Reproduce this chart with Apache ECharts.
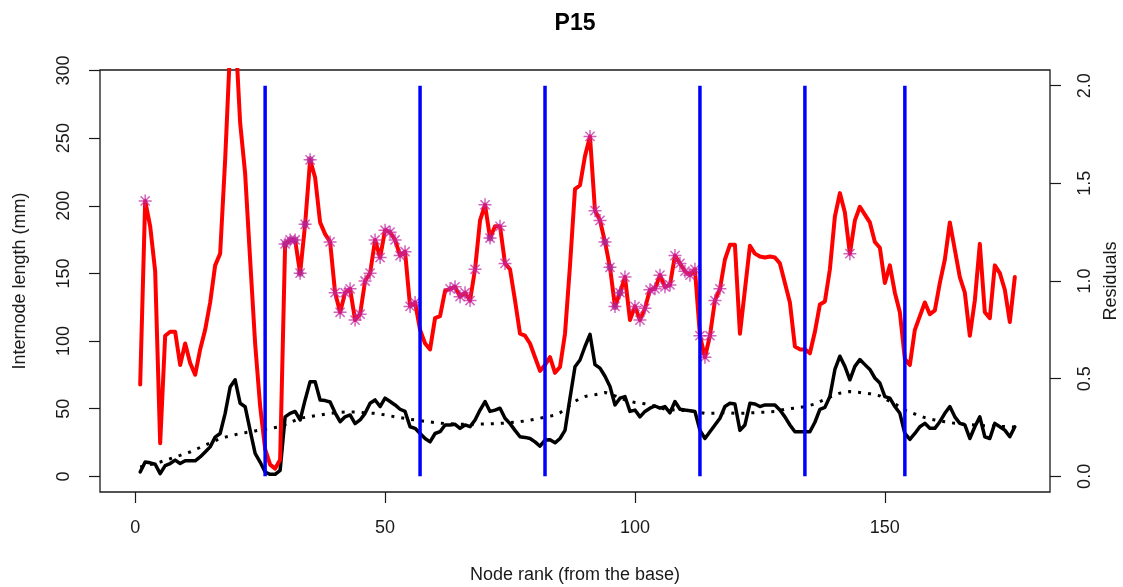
<!DOCTYPE html>
<html>
<head>
<meta charset="utf-8">
<script src="https://cdn.jsdelivr.net/npm/echarts@6/dist/echarts.min.js"></script>
<style>
  html, body { margin: 0; padding: 0; background: #ffffff; }
  #chart { width: 1123px; height: 587px; }
</style>
</head>
<body>
<div id="chart"></div>
<script>
// Internode length (mm) for nodes 1..176, counted from the base
const internodeLength = [
  3.2, 10.6, 10, 9, 2, 8, 9.5, 12, 9.5, 11.5,
  11.5, 11.5, 14.4, 18, 21.8, 29, 31.7, 46.6, 66, 71.4,
  54, 51.5, 34, 17, 10.6, 3.2, 1.5, 1.5, 4.5, 44,
  46.6, 48, 41.7, 56.5, 70, 70, 56.5, 56, 55, 47,
  40.4, 44, 45.4, 39, 41.7, 46.6, 54, 56.5, 51.6, 57.8,
  55.3, 52.8, 49.6, 48, 36.7, 35.5, 31.7, 28, 25.5, 31.7,
  33, 38, 38, 38.5, 35.5, 38, 36.7, 41.7, 49, 55.3,
  48, 49, 50.4, 43, 39, 34, 29.3, 28.8, 28, 25.5,
  22.3, 26.8, 27, 24.8, 28, 34, 58, 81, 86, 96,
  105, 82.6, 80, 74, 66.4, 52.8, 57.8, 59, 48, 49,
  44, 48, 50.4, 52, 50.4, 51.6, 47, 55.3, 49.6, 49,
  48.5, 48, 34, 28, 33, 38, 43, 51.6, 54, 53.5,
  34, 38, 54, 53.5, 51.6, 52.8, 52.8, 52.8, 49, 44,
  38, 33, 33, 33, 33, 40, 49.6, 51, 59, 79,
  88.8, 81.3, 71.4, 81.3, 86.3, 82.6, 79, 72.7, 69, 59,
  57.8, 51.6, 46.6, 31.7, 27.3, 31.7, 36.7, 39.2, 35.5, 35.5,
  40.4, 46.6, 51.6, 44, 39.2, 38, 28, 36.7, 44, 29.3,
  28, 39.2, 36.7, 34.2, 29.3, 36.7
];

// Smoothed trend of the internode length (mm), one value per node
const smoothTrend = [
  7.0, 7.8, 8.7, 9.6, 10.6, 11.8, 13.0, 14.3, 15.5, 16.8,
  18.0, 19.7, 21.4, 23.0, 24.7, 26.4, 28.0, 29.0, 29.9, 30.8,
  31.7, 32.3, 32.9, 33.6, 34.2, 34.8, 35.4, 36.1, 36.7, 38.3,
  39.8, 41.4, 43.0, 43.6, 44.2, 44.8, 45.4, 46.0, 46.6, 47.0,
  47.4, 47.6, 47.6, 47.5, 47.3, 47.0, 46.8, 46.6, 46.0, 45.4,
  44.7, 44.0, 43.4, 42.8, 42.2, 41.7, 41.2, 40.7, 40.2, 39.7,
  39.4, 39.1, 38.9, 38.7, 38.6, 38.5, 38.5, 38.6, 38.7, 38.8,
  38.9, 39.0, 39.2, 39.4, 39.7, 40.0, 40.4, 41.0, 41.6, 42.3,
  43.0, 43.8, 44.5, 45.2, 47.0, 49.5, 52.5, 55.5, 57.5, 59.0,
  59.7, 60.3, 61.2, 62.0, 61.0, 59.5, 58.0, 56.5, 55.5, 54.6,
  54.1, 53.6, 52.8, 52.0, 50.8, 49.6, 49.3, 49.0, 48.8, 48.6,
  48.3, 47.9, 47.3, 46.6, 46.6, 46.6, 46.9, 47.1, 46.9, 46.6,
  46.6, 46.6, 46.9, 47.1, 47.3, 47.4, 47.7, 47.9, 48.8, 49.6,
  50.0, 50.4, 51.0, 51.6, 52.5, 53.5, 55.3, 57.0, 58.6, 60.2,
  61.5, 62.1, 62.7, 62.4, 62.0, 61.5, 61.0, 60.2, 59.5, 57.5,
  55.3, 53.5, 51.6, 49.0, 47.5, 46.1, 44.8, 43.4, 42.5, 41.7,
  41.0, 40.4, 39.8, 39.2, 38.9, 38.6, 38.3, 38.0, 37.7, 37.5,
  37.3, 37.1, 36.9, 36.8, 36.6, 36.5
];

// Residuals (length relative to the trend), right-hand scale
const residuals = [
  0.47, 1.41, 1.28, 1.05, 0.17, 0.72, 0.74, 0.74, 0.57, 0.68,
  0.58, 0.52, 0.65, 0.75, 0.89, 1.08, 1.14, 1.62, 2.2, 2.3,
  1.81, 1.55, 1.11, 0.68, 0.36, 0.14, 0.06, 0.04, 0.085, 1.19,
  1.21, 1.21, 1.04, 1.29, 1.62, 1.53, 1.30, 1.24, 1.20, 0.94,
  0.84, 0.94, 0.96, 0.80, 0.83, 1.00, 1.04, 1.21, 1.12, 1.26,
  1.25, 1.21, 1.13, 1.15, 0.87, 0.89, 0.75, 0.68, 0.65, 0.81,
  0.82, 0.95, 0.96, 0.97, 0.92, 0.94, 0.90, 1.06, 1.31, 1.39,
  1.22, 1.28, 1.28, 1.09, 1.06, 0.90, 0.73, 0.72, 0.68, 0.61,
  0.54, 0.57, 0.61, 0.53, 0.56, 0.73, 1.08, 1.47, 1.49, 1.64,
  1.74, 1.36, 1.31, 1.20, 1.07, 0.87, 0.94, 1.02, 0.80, 0.87,
  0.80, 0.86, 0.955, 0.96, 1.03, 0.97, 0.98, 1.13, 1.09, 1.05,
  1.03, 1.06, 0.72, 0.61, 0.72, 0.90, 0.96, 1.11, 1.185, 1.185,
  0.73, 0.955, 1.18, 1.14, 1.125, 1.12, 1.125, 1.12, 1.09, 0.99,
  0.89, 0.665, 0.65, 0.65, 0.63, 0.74, 0.88, 0.895, 1.06, 1.33,
  1.45, 1.35, 1.14, 1.31, 1.38, 1.34, 1.30, 1.20, 1.17, 0.99,
  1.08, 0.94, 0.84, 0.60, 0.57, 0.75, 0.82, 0.89, 0.83, 0.85,
  0.99, 1.11, 1.30, 1.16, 1.02, 0.94, 0.72, 0.90, 1.19, 0.84,
  0.81, 1.08, 1.04, 0.955, 0.79, 1.02
];

// Nodes flagged with an asterisk on the residual curve
const starredNodes = [
  2, 30, 31, 32, 33, 34, 35, 39, 40, 41, 42, 43, 44, 45, 46, 47, 48, 49,
  50, 51, 52, 53, 54, 55, 56, 63, 64, 65, 66, 67, 68, 70, 71, 73, 74,
  91, 92, 93, 94, 95, 96, 97, 98, 100, 101, 102, 103, 104, 105, 106,
  107, 108, 109, 110, 111, 112, 113, 114, 115, 116, 117, 143
];
// Flagged nodes where several asterisks pile up
const stackedStarNodes = [30, 31, 32, 33, 34, 35, 71, 94, 95, 96, 97];

// Segment boundaries (node ranks)
const breakNodes = [26, 57, 82, 113, 134, 154];

// Tick labels
const xTicks = [0, 50, 100, 150];
const leftTicks = [0, 50, 100, 150, 200, 250, 300];
const rightTicks = [0, 0.5, 1, 1.5, 2];

const FONT = '"Liberation Sans", Arial, Helvetica, sans-serif';
const TEXT = '#1a1a1a';

const nodeRank = internodeLength.map((_, i) => i + 1);
const toPoints = (vals) => vals.map((v, i) => [nodeRank[i], v]);
const residualAt = (node) => [node, residuals[node - 1]];

const asteriskPath = 'path://M0,-10L0,10M-10,0L10,0M-7.07,-7.07L7.07,7.07M-7.07,7.07L7.07,-7.07';

const axisText = { fontFamily: FONT, fontSize: 18, color: TEXT };

const chart = echarts.init(document.getElementById('chart'), null, { renderer: 'canvas' });

const series = [
  {
    name: 'Internode length',
    type: 'line',
    xAxisIndex: 0, yAxisIndex: 0,
    data: toPoints(internodeLength),
    symbol: 'none',
    lineStyle: { color: '#000000', width: 3.5, join: 'round', cap: 'round' },
    z: 2
  },
  {
    name: 'Trend',
    type: 'line',
    xAxisIndex: 0, yAxisIndex: 0,
    data: toPoints(smoothTrend),
    symbol: 'none',
    lineStyle: { color: '#000000', width: 3, type: [3, 7], cap: 'butt' },
    z: 2
  },
  {
    name: 'Residuals',
    type: 'line',
    xAxisIndex: 0, yAxisIndex: 1,
    data: toPoints(residuals),
    symbol: 'none',
    clip: true,
    lineStyle: { color: '#ff0000', width: 4, join: 'round', cap: 'round' },
    z: 3
  },
  {
    name: 'Stacked',
    type: 'scatter',
    xAxisIndex: 0, yAxisIndex: 1,
    data: stackedStarNodes.map(residualAt),
    symbol: 'circle',
    symbolSize: 7,
    itemStyle: { color: 'rgba(150, 30, 105, 0.85)' },
    z: 4
  },
  {
    name: 'Flagged',
    type: 'scatter',
    xAxisIndex: 0, yAxisIndex: 1,
    data: starredNodes.map(residualAt),
    symbol: asteriskPath,
    symbolSize: 13,
    itemStyle: { color: 'rgba(0,0,0,0)', borderColor: 'rgba(192, 38, 165, 0.9)', borderWidth: 1.5 },
    z: 5
  }
].concat(breakNodes.map((node) => ({
  name: 'Break ' + node,
  type: 'line',
  xAxisIndex: 0, yAxisIndex: 1,
  data: [[node, 0], [node, 2]],
  symbol: 'none',
  lineStyle: { color: '#0000ff', width: 3.5, cap: 'butt' },
  z: 6
})));

chart.setOption({
  animation: false,
  backgroundColor: '#ffffff',
  title: {
    text: 'P15',
    left: 575,
    top: 12,
    textAlign: 'center',
    padding: 0,
    textStyle: { fontFamily: FONT, fontSize: 23, fontWeight: 'bold', color: '#000000' }
  },
  grid: {
    left: 100, top: 70, width: 950, height: 422,
    outerBoundsMode: 'none',
    containLabel: false,
    show: true, borderColor: '#1a1a1a', borderWidth: 1.3, backgroundColor: 'rgba(0,0,0,0)'
  },
  xAxis: {
    type: 'value',
    min: -7.04, max: 183.04,
    name: 'Node rank (from the base)',
    nameLocation: 'middle',
    nameGap: 74,
    nameTextStyle: { fontFamily: FONT, fontSize: 18, color: TEXT },
    axisLine: { show: false, onZero: false },
    axisTick: { show: true, customValues: xTicks, length: 11, lineStyle: { color: '#1a1a1a', width: 1.2 } },
    axisLabel: Object.assign({ customValues: xTicks, margin: 27 }, axisText),
    splitLine: { show: false }
  },
  yAxis: [
    {
      type: 'value',
      position: 'left',
      min: -11.55, max: 300.35,
      name: 'Internode length (mm)',
      nameLocation: 'middle',
      nameRotate: 90,
      nameGap: 71,
      nameTextStyle: { fontFamily: FONT, fontSize: 18, color: TEXT },
      axisLine: { show: false, onZero: false },
      axisTick: { show: true, customValues: leftTicks, length: 11, lineStyle: { color: '#1a1a1a', width: 1.2 } },
      axisLabel: Object.assign({ customValues: leftTicks, rotate: 90, margin: 27 }, axisText),
      splitLine: { show: false }
    },
    {
      type: 'value',
      position: 'right',
      min: -0.08, max: 2.08,
      name: 'Residuals',
      nameLocation: 'middle',
      nameRotate: 90,
      nameGap: 51,
      nameTextStyle: { fontFamily: FONT, fontSize: 18, color: TEXT },
      axisLine: { show: false, onZero: false },
      axisTick: { show: true, customValues: rightTicks, length: 11, lineStyle: { color: '#1a1a1a', width: 1.2 } },
      axisLabel: Object.assign({ customValues: rightTicks, rotate: 90, margin: 26, formatter: (v) => Number(v).toFixed(1) }, axisText),
      splitLine: { show: false }
    }
  ],
  series: series
});
</script>
</body>
</html>
